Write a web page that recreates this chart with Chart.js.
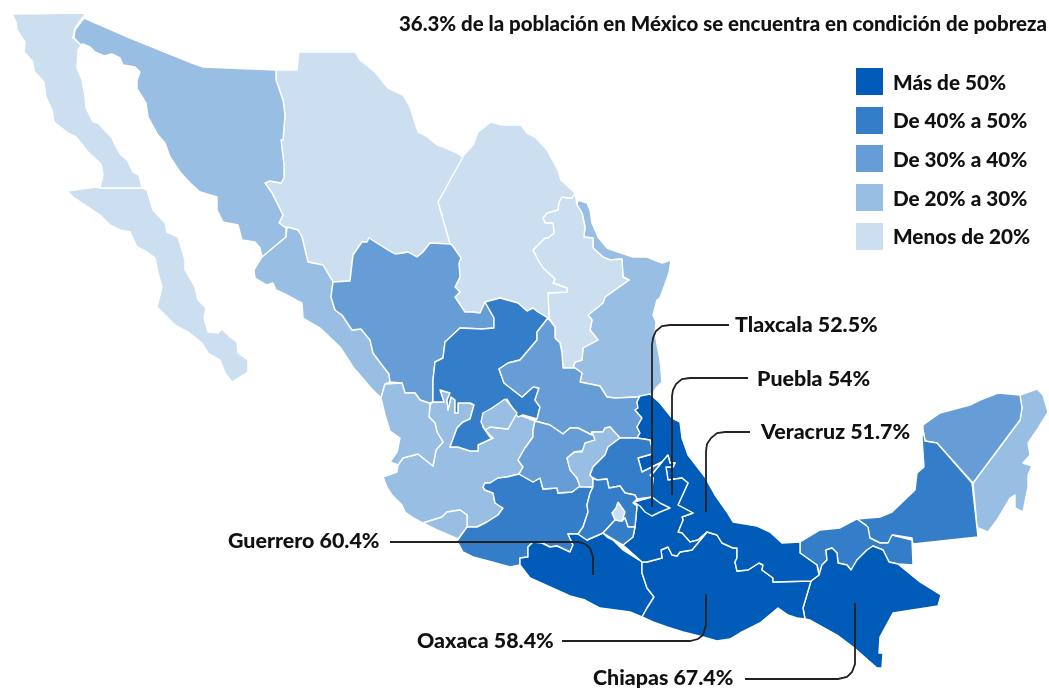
<!DOCTYPE html>
<html lang="es">
<head>
<meta charset="utf-8">
<title>Pobreza en México</title>
<script src="https://cdn.jsdelivr.net/npm/chart.js@4/dist/chart.umd.min.js"></script>
<style>
  html, body { margin: 0; padding: 0; background: #fff; }
  #mapa { position: absolute; left: 0; top: 0; }
  #titulo { position: absolute; right: 2px; top: 11px; font: 900 20.45px Lato, sans-serif; color: #111; white-space: nowrap; }
  #leyenda { position: absolute; left: 856px; top: 68px; }
  .fila { display: flex; align-items: center; height: 27px; margin-bottom: 11.7px; font: 900 20.7px Lato, sans-serif; color: #111; white-space: nowrap; }
  .fila i { display: block; width: 27px; height: 27px; margin-right: 10px; }
</style>
</head>
<body>
<canvas id="mapa" width="1049" height="688"></canvas>
<div id="titulo">36.3% de la población en México se encuentra en condición de pobreza</div>
<div id="leyenda"></div>
<script>
// clases de pobreza
const clases = ["Más de 50%", "De 40% a 50%", "De 30% a 40%", "De 20% a 30%", "Menos de 20%"];
const colores = ["#015cb9", "#347dc8", "#669dd6", "#99bee4", "#ccdff1"];

// contornos de los estados, pares x,y en las unidades del mapa
const bajaCalifornia = [12,14,86,13,75,28,73,38,81,45,78,50,77,68,82,80,85,97,86,108,93,122,98,123,112,138,116,147,121,155,127,160,133,172,139,175,142,188,100,188,103,175,101,164,88,152,76,137,68,133,54,122,52,110,46,97,44,82,34,71,33,62,24,52,25,42,17,30,16,22];
const bajaCaliforniaSur = [67,191,75,190,95,187,100,188,142,188,147,190,153,210,165,223,167,232,178,237,185,260,185,270,195,287,198,300,206,308,204,318,208,332,218,333,222,329,230,337,237,342,238,353,248,360,248,372,232,382,225,373,220,360,208,353,202,343,188,332,175,325,163,313,157,307,162,287,158,273,155,258,147,252,137,247,130,232,120,230,110,225,100,215,85,205,73,197];
const sonora = [84,18,130,38,192,63,203,67,276,70,276,80,283,100,285,115,283,140,281,140,284,165,284,178,281,183,270,181,265,183,272,193,283,215,279,223,286,228,286,237,262,257,260,248,255,242,242,240,238,225,223,222,217,210,217,197,200,192,190,183,180,172,170,157,165,143,158,135,148,117,146,103,138,90,137,80,140,72,135,67,123,65,120,58,112,54,104,56,95,52,90,47,83,44,81,45,74,38,75,30];
const chihuahua = [276,70,297,70,299,52,355,52,360,60,375,72,388,88,403,95,410,107,418,132,425,135,437,145,443,147,455,152,463,157,438,202,450,244,430,243,423,252,417,257,408,252,403,253,395,254,388,250,380,245,369,238,367,242,362,242,353,255,350,281,333,282,323,265,308,262,302,237,298,230,287,227,286,228,279,223,283,215,272,193,265,183,270,181,281,183,284,178,284,165,281,140,283,140,285,115,283,100,276,80];
const coahuila = [463,156,473,145,478,132,491,122,502,125,521,125,527,133,535,137,547,150,558,170,561,180,575,193,572,198,568,198,562,197,559,202,558,210,547,213,543,218,545,223,553,223,554,233,548,238,545,238,533,250,538,260,543,268,555,279,553,283,567,288,567,292,548,293,549,317,548,318,538,312,533,308,527,311,518,303,500,298,485,302,480,313,472,312,465,312,455,297,460,292,455,287,460,277,459,263,461,258,452,245,450,244,438,202];
const nuevoLeon = [575,193,577,205,582,213,585,227,584,237,593,238,593,248,603,257,610,260,622,259,623,277,629,280,605,297,603,303,588,315,592,320,590,330,598,340,583,348,582,360,575,362,573,368,563,368,562,353,560,343,555,338,555,327,549,318,548,293,567,292,567,288,553,283,555,279,543,268,538,260,533,250,545,238,548,238,554,233,553,223,545,223,543,218,547,213,558,210,559,202,562,197,568,198,572,198];
const tamaulipas = [578,200,587,203,590,210,592,223,598,237,607,248,615,251,633,257,647,257,662,263,671,260,669,273,660,298,657,300,653,315,656,322,655,333,660,360,662,382,656,388,652,395,650,395,638,397,615,398,607,397,600,386,580,382,582,373,575,368,573,368,575,362,582,360,583,348,598,340,590,330,592,320,588,315,603,303,605,297,629,280,623,277,622,259,610,260,603,257,593,248,593,238,584,237,585,227,582,213,577,205];
const sinaloa = [287,227,298,230,302,237,308,262,323,265,333,282,331,297,335,310,342,315,352,330,361,329,370,340,373,353,382,365,389,374,390,382,385,384,381,398,370,387,353,367,340,347,320,328,303,318,302,303,287,295,276,290,273,283,267,285,255,278,254,270,262,257,286,237];
const durango = [333,282,350,281,353,255,362,242,367,242,369,238,380,245,388,250,395,254,403,253,408,252,417,257,423,252,430,243,450,244,452,245,461,258,459,263,460,277,455,287,460,292,455,297,465,312,472,312,480,313,485,302,494,318,494,328,482,329,460,328,445,342,443,358,435,362,433,380,433,402,429,403,420,400,415,393,405,393,402,383,390,382,389,374,382,365,373,353,370,340,361,329,352,330,342,315,335,310,331,297];
const zacatecas = [485,302,500,298,518,303,527,311,533,308,538,312,548,318,537,332,537,340,520,360,508,363,499,369,504,383,522,397,533,387,539,388,535,400,540,407,537,419,523,415,518,417,507,399,492,408,482,420,483,427,490,437,493,438,478,445,478,451,470,451,458,447,450,447,457,428,463,422,470,419,474,405,470,403,458,403,458,413,455,413,455,400,451,397,448,410,447,400,450,393,440,390,444,402,433,402,433,380,435,362,443,358,445,342,460,328,482,329,494,328,494,318];
const aguascalientes = [505,399,517,413,508,429,490,427,485,430,481,422,483,413,492,408];
const jalisco = [433,402,444,402,440,390,450,393,447,400,448,410,451,397,455,400,455,413,458,413,458,403,470,403,474,405,470,419,463,422,457,428,450,447,458,447,470,451,478,451,478,445,493,438,485,430,490,427,508,429,517,413,522,416,535,421,533,430,533,437,525,448,518,460,523,467,519,474,507,477,498,478,490,483,485,483,483,487,485,490,493,493,495,503,503,508,498,515,487,522,477,527,467,527,467,515,460,510,447,512,442,517,423,523,412,517,405,512,402,505,392,495,387,487,383,477,397,472,398,465,403,458,418,454,433,466,436,450,443,442,437,432,435,423,429,417,430,405];
const nayarit = [385,384,402,383,405,393,415,393,420,400,429,403,430,405,429,417,435,423,437,432,443,442,436,450,433,466,418,454,403,458,398,465,390,462,397,452,400,438,390,431,385,415,381,398];
const colima = [423,523,442,517,447,512,460,510,467,515,467,527,458,539,437,530];
const michoacan = [519,474,533,482,540,478,543,489,557,488,558,493,572,492,580,486,593,487,590,493,587,505,588,512,583,527,578,534,568,534,573,545,570,552,557,546,550,547,542,543,533,542,528,547,528,557,520,558,520,565,510,567,492,562,473,557,463,552,457,541,467,527,477,527,487,522,498,515,503,508,495,503,493,493,485,490,483,487,485,483,490,483,498,478,507,477];
const guanajuato = [535,421,550,425,563,434,570,428,578,428,592,435,592,432,602,433,593,442,587,450,574,452,567,458,570,468,580,483,580,486,572,492,558,493,557,488,543,489,540,478,533,482,519,474,523,467,518,460,525,448,533,437,533,430];
const queretaro = [620,438,610,427,605,428,603,432,592,432,595,440,585,443,582,452,575,452,567,458,570,470,577,478,580,487,593,487,593,478,590,475,593,467,598,462,605,455,608,447];
const sanLuisPotosi = [548,318,555,327,555,338,560,343,562,353,563,368,573,368,575,368,582,373,580,382,600,386,607,397,615,398,638,397,640,396,637,402,638,408,635,410,642,418,637,427,640,433,637,438,620,438,610,427,605,428,603,432,592,432,592,435,578,428,570,428,563,434,550,425,535,421,537,419,540,407,535,400,539,388,533,387,522,397,504,383,499,369,508,363,520,360,537,340,537,332];
const hidalgo = [620,438,637,438,650,440,652,448,652,454,638,458,642,472,652,467,662,462,653,473,650,475,653,478,652,488,652,497,637,499,635,495,625,493,620,486,609,488,607,479,597,480,593,478,590,475,593,467,598,462,605,455,608,447];
const mexicoEstado = [593,487,593,478,597,480,607,479,609,488,620,486,625,493,635,495,637,499,633,503,637,506,635,527,628,527,625,518,622,521,615,520,603,533,587,540,578,534,583,527,588,512,587,505,590,493];
const cdmx = [618,502,625,512,622,521,615,520,612,513,616,508];
const morelos = [615,520,622,521,625,518,628,527,635,527,633,537,623,545,603,533];
const tlaxcala = [634,502,652,497,660,503,670,508,660,512,652,516,645,512,640,506];
const puebla = [668,455,670,463,675,463,673,467,666,467,668,480,682,478,688,483,678,505,693,513,682,517,683,520,678,532,682,533,690,542,698,540,707,532,692,550,680,552,677,556,672,555,668,547,661,550,662,558,647,562,642,562,623,545,633,537,635,527,637,506,634,502,652,497,652,488,653,478,650,475,653,473,662,462];
const veracruz = [640,396,650,394,660,403,672,418,680,422,682,438,688,455,705,477,715,495,727,512,733,522,757,526,770,532,782,543,800,542,800,553,817,565,819,575,811,581,773,582,773,578,762,570,763,565,759,563,748,570,737,571,735,562,737,558,737,548,733,548,722,543,717,535,707,532,698,540,690,542,682,533,678,532,683,520,682,517,693,513,678,505,688,483,682,478,668,480,666,467,673,467,675,463,670,463,668,455,662,462,652,467,642,472,638,458,652,454,652,448,650,440,637,438,640,433,637,427,642,418,635,410,638,408,637,402];
const guerrero = [533,542,542,543,550,547,557,546,570,552,573,545,568,534,578,534,587,540,603,533,607,537,613,540,623,550,642,562,642,573,647,588,654,597,647,608,642,617,630,612,600,608,585,600,570,596,550,587,530,578,520,565,520,558,528,557,528,547];
const oaxaca = [642,562,647,562,662,558,661,550,668,547,672,555,677,556,680,552,692,550,707,532,717,535,722,543,733,548,737,548,737,558,735,562,737,571,748,570,759,563,763,565,762,570,773,578,773,582,811,581,803,608,805,619,797,618,788,615,778,608,772,613,760,623,740,633,730,639,717,641,703,637,683,632,667,627,653,622,642,617,647,608,654,597,647,588,642,573];
const chiapas = [819,575,822,565,827,560,826,550,832,548,837,553,838,563,847,565,851,570,857,560,867,550,873,546,883,550,889,562,898,564,920,582,941,595,938,606,893,613,880,637,879,653,883,653,882,668,877,668,853,647,837,635,810,620,805,619,803,608,811,581];
const tabasco = [800,542,820,530,840,528,857,519,868,527,870,538,880,543,888,543,892,535,912,540,913,565,898,564,889,562,883,550,873,546,867,550,857,560,851,570,847,565,838,563,837,553,832,548,826,550,827,560,822,565,819,575,817,565,800,553];
const campeche = [857,519,880,517,892,512,915,490,917,473,924,467,922,437,923,430,925,441,937,443,972,483,978,537,913,544,912,538,893,535,889,543,880,543,868,537,866,525];
const yucatan = [923,430,923,425,940,413,970,405,980,400,998,393,1020,395,1022,408,1020,420,973,483,937,443,925,441];
const quintanaRoo = [1020,395,1037,389,1043,395,1048,412,1037,430,1028,443,1030,455,1023,463,1032,466,1028,475,1028,487,1023,512,1015,508,1015,495,1010,498,997,520,988,532,978,528,978,537,973,483,1020,420,1022,408];

// estado y clase, el primero queda dibujado encima
const estados = [
  [cdmx, 4], [tlaxcala, 0], [morelos, 1], [mexicoEstado, 1], [hidalgo, 1], [puebla, 0],
  [veracruz, 0], [oaxaca, 0], [guerrero, 0], [chiapas, 0], [tabasco, 1], [campeche, 1],
  [yucatan, 2], [quintanaRoo, 3], [queretaro, 3], [guanajuato, 2], [sanLuisPotosi, 2],
  [aguascalientes, 3], [zacatecas, 1], [michoacan, 1], [colima, 3], [nayarit, 3], [jalisco, 3],
  [durango, 2], [sinaloa, 3], [sonora, 3], [chihuahua, 4], [coahuila, 4], [nuevoLeon, 4],
  [tamaulipas, 3], [bajaCalifornia, 4], [bajaCaliforniaSur, 4]
];

// lineas guia de las etiquetas
const guiaTlaxcala = [729,325,670,325,662,326,656,331,653,338,652,345,652,507];
const guiaPuebla = [748,378,690,378,682,379,676,384,673,390,672,396,672,495];
const guiaVeracruz = [750,432,725,432,717,433,711,438,707,444,706,451,706,512];
const guiaGuerrero = [390,542,578,542,585,544,590,548,593,557,593,575];
const guiaOaxaca = [562,641,690,641,698,639,703,635,706,625,706,594];
const guiaChiapas = [745,679,838,679,847,677,852,672,855,664,855,603];
const guias = [guiaTlaxcala, guiaPuebla, guiaVeracruz, guiaGuerrero, guiaOaxaca, guiaChiapas];

const etiquetas = ["Tlaxcala 52.5%", "Puebla 54%", "Veracruz 51.7%", "Guerrero 60.4%", "Oaxaca 58.4%", "Chiapas 67.4%"];
const etiquetaX = [735, 757, 761, 228, 417, 593];
const etiquetaY = [325, 379, 432, 541, 641, 678];

function puntos(par) {
    const salida = [];
    for (let i = 0; i < par.length; i += 2) salida.push({ x: par[i], y: par[i + 1] });
    return salida;
}

const datasets = [];
guias.forEach(g => datasets.push({
    data: puntos(g), showLine: true, fill: false, borderColor: "#222", borderWidth: 1.8, pointRadius: 0
}));
estados.forEach(([contorno, clase]) => {
    const p = puntos(contorno);
    p.push(p[0]);
    datasets.push({
        data: p, showLine: true, fill: "shape", backgroundColor: colores[clase],
        borderColor: "#fff", borderWidth: 1.4, borderJoinStyle: "round", pointRadius: 0
    });
});

// etiquetas de los estados sobre el mapa
const textoEtiquetas = {
    id: "textoEtiquetas",
    afterDraw(chart) {
        const { ctx, scales } = chart;
        ctx.save();
        ctx.font = "900 21.4px Lato, sans-serif";
        ctx.fillStyle = "#111";
        ctx.textBaseline = "middle";
        etiquetas.forEach((t, i) => ctx.fillText(t, scales.x.getPixelForValue(etiquetaX[i]), scales.y.getPixelForValue(etiquetaY[i])));
        ctx.restore();
    }
};

new Chart(document.getElementById("mapa"), {
    type: "scatter",
    data: { datasets },
    plugins: [textoEtiquetas],
    options: {
        responsive: false,
        animation: false,
        events: [],
        layout: { padding: 0 },
        plugins: { legend: { display: false }, tooltip: { enabled: false } },
        scales: {
            x: { display: false, min: 0, max: 1049 },
            y: { display: false, min: 0, max: 688, reverse: true }
        }
    }
});

const leyenda = document.getElementById("leyenda");
clases.forEach((c, i) => {
    const fila = document.createElement("div");
    fila.className = "fila";
    fila.innerHTML = `<i style="background:${colores[i]}"></i><span>${c}</span>`;
    leyenda.appendChild(fila);
});
</script>
</body>
</html>
